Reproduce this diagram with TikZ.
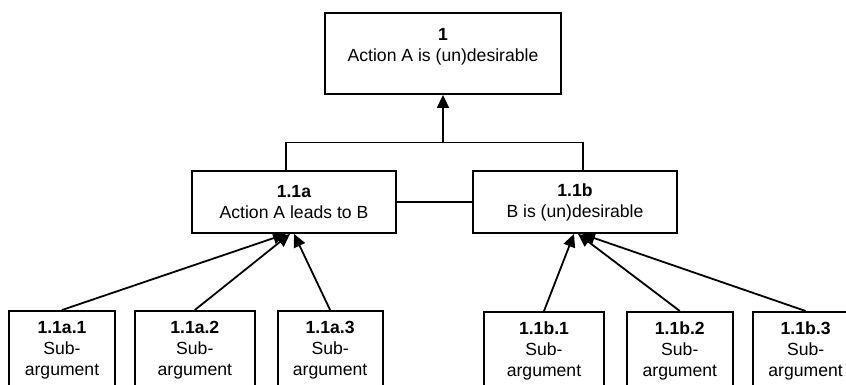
\documentclass[tikz,border=0pt]{standalone}
\usepackage{fontspec}
\setmainfont{Liberation Sans}
\usepackage{tikz}
\usetikzlibrary{arrows.meta, positioning}
\tikzstyle{claimbox} = [rectangle, draw, line width=0.9pt, align=center, anchor=north,
    minimum width=118pt, inner ysep=7.5pt, text depth=9pt]
\tikzstyle{argbox} = [rectangle, draw, line width=0.9pt, align=center,
    minimum width=102pt, minimum height=31pt]
\tikzstyle{subbox} = [rectangle, draw, line width=0.9pt, align=center, anchor=north,
    minimum width=53pt, inner ysep=5pt, text depth=40pt]
\tikzstyle{line} = [draw, line width=0.9pt, -{Triangle[length=6.5pt,width=6pt]}]

\begin{document}
\begin{tikzpicture}[node distance = 10pt, font=\fontsize{8.8}{10.5}\selectfont]
      \useasboundingbox (0,0) rectangle (423pt,-192.5pt);
      % Main claim
      \node [claimbox] (claim) at (221.5pt,-6pt) {\textbf{1}\\Action A is (un)desirable};
      % Arguments
      \node [argbox] (arg-a) at (147pt,-101pt) {\textbf{1.1a}\\Action A leads to B};
      \node [argbox] (arg-b) at (287.5pt,-101pt) {\textbf{1.1b}\\B is (un)desirable};
      \coordinate (join) at ([yshift=-23.75pt]claim.south);
      % Sub-arguments
      \node [subbox] (sub-a1) at (31pt,-155pt) {\textbf{1.1a.1}\\Sub-\\argument};
      \node [subbox, minimum width=60pt, right=9pt of sub-a1.north east, anchor=north west] (sub-a2) {\textbf{1.1a.2}\\Sub-\\argument};
      \node [subbox, minimum width=52.5pt, right=10.5pt of sub-a2.north east, anchor=north west] (sub-a3) {\textbf{1.1a.3}\\Sub-\\argument};
      \node [subbox, minimum width=60pt] (sub-b1) at (272pt,-155.5pt) {\textbf{1.1b.1}\\Sub-\\argument};
      \node [subbox, right=10.5pt of sub-b1.north east, anchor=north west] (sub-b2) {\textbf{1.1b.2}\\Sub-\\argument};
      \node [subbox, right=9pt of sub-b2.north east, anchor=north west] (sub-b3) {\textbf{1.1b.3}\\Sub-\\argument};
      % Draw edges
      \draw [line width=0.9pt] ([xshift=-4pt]arg-a.north) |- (join) -| ([xshift=4pt]arg-b.north);
      \path [line] (join) -- (claim);
      \draw [line width=0.9pt] (arg-a) -- (arg-b);
      \path [line] (sub-a1.north) -- ([xshift=-4pt]arg-a.south);
      \path [line] (sub-a2.north) -- ([xshift=-2pt]arg-a.south);
      \path [line] (sub-a3.north) -- ([xshift=0pt]arg-a.south);
      \path [line] (sub-b1.north) -- ([xshift=-0.5pt]arg-b.south);
      \path [line] (sub-b2.north) -- ([xshift=1.5pt]arg-b.south);
      \path [line] (sub-b3.north) -- ([xshift=3.5pt]arg-b.south);
    \end{tikzpicture}
\end{document}
